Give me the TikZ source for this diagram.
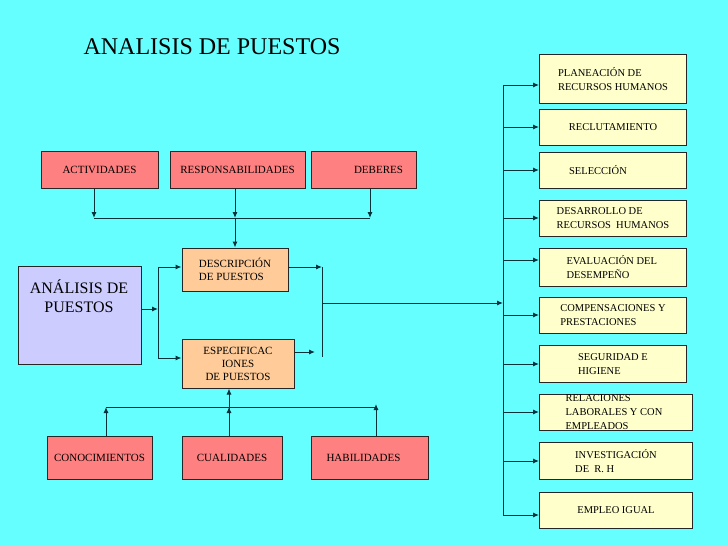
\documentclass[tikz,border=0pt]{standalone}
\usepackage{fontspec}
\setmainfont{Liberation Serif}
\usetikzlibrary{arrows.meta}
\definecolor{bgc}{RGB}{102,255,255}
\definecolor{redc}{RGB}{255,128,128}
\definecolor{yelc}{RGB}{255,255,204}
\definecolor{orc}{RGB}{255,204,153}
\definecolor{lavc}{RGB}{204,204,255}
\definecolor{linec}{RGB}{0,50,60}
\begin{document}
\begin{tikzpicture}[x=1pt,y=-1pt,
  box/.style={draw=black!85,line width=1pt,inner sep=0pt,font=\fontsize{11}{13}\selectfont,align=left},
  redb/.style={box,fill=redc,align=center},
  yel/.style={box,fill=yelc},
  conn/.style={draw=linec,line width=1pt},
  arr/.style={conn,-{Latex[length=6pt,width=5pt]}}]
\fill[bgc] (0,0) rectangle (728,546);
\useasboundingbox (0,0) rectangle (728,546);
\node[anchor=west,font=\fontsize{24}{26}\selectfont] (title) at (80,47) {ANALISIS DE PUESTOS};
% top red
\node[redb,minimum width=117pt,minimum height=37pt] (act) at (99.5,169.5) {ACTIVIDADES};
\node[redb,minimum width=135pt,minimum height=37pt] (resp) at (237.5,169.5) {RESPONSABILIDADES};
\node[redb,minimum width=105pt,minimum height=37pt] (deb) at (363.5,169.5) {\hspace*{30pt}DEBERES};
% bottom red
\node[redb,minimum width=105pt,minimum height=43pt] (con) at (99.5,457.5) {CONOCIMIENTOS};
\node[redb,minimum width=100pt,minimum height=43pt] (cua) at (232,457.5) {CUALIDADES};
\node[redb,minimum width=117pt,minimum height=43pt] (hab) at (369.5,457.5) {HABILIDADES\hspace*{12pt}};
% middle
\node[box,fill=lavc,minimum width=123pt,minimum height=98pt,anchor=north west] (ana) at (18,266) {};
\node[font=\fontsize{16}{19}\selectfont,align=center] (anat) at (79,296) {ANÁLISIS DE\\PUESTOS};
\node[box,fill=orc,minimum width=106pt,minimum height=43pt] (desc) at (235,269.5) {DESCRIPCIÓN\\DE PUESTOS};
\node[box,fill=orc,minimum width=112pt,minimum height=49pt,align=center] (esp) at (238,363.5) {ESPECIFICAC\\IONES\\DE PUESTOS};
% right boxes
\foreach \n/\t/\yy/\hh/\w in {
 r1/{PLANEACIÓN DE\\RECURSOS HUMANOS}/54/49/147,
 r2/{RECLUTAMIENTO}/109/36/147,
 r3/{SELECCIÓN\hspace*{30pt}}/152/36/147,
 r4/{DESARROLLO DE\\RECURSOS\ \ HUMANOS}/200/36/147,
 r5/{EVALUACIÓN DEL\\DESEMPEÑO\hspace*{30pt}}/248/38/147,
 r6/{COMPENSACIONES Y\\PRESTACIONES\hspace*{23pt}}/297/36/147,
 r7/{SEGURIDAD E\\HIGIENE\hspace*{24pt}}/345/37/147,
 r8/{RELACIONES\hspace*{32pt}\\LABORALES Y CON\\EMPLEADOS\hspace*{38pt}}/394/36/153,
 r9/{INVESTIGACIÓN\\DE\ \ R. H\hspace*{42pt}}/442/37/153,
 r10/{EMPLEO IGUAL}/492/36/153}
 {\node[yel,anchor=north west,minimum width=\w pt,minimum height=\hh pt,align=left,font=\fontsize{10.5}{14}\selectfont] (\n) at (539,\yy) {\t};}
% top connectors
\coordinate (ja) at (94,218); \coordinate (jr) at (235,218); \coordinate (jd) at (370,218);
\draw[arr] (act.south-|ja) -- (ja);
\draw[arr] (resp.south-|jr) -- (jr);
\draw[arr] (deb.south-|jd) -- (jd);
\draw[conn] (ja) -- (jd);
\draw[arr] (jr) -- (desc.north-|jr);
% analysis split
\coordinate (sp) at (158,309);
\draw[arr] (ana.east|-sp) -- (sp);
\coordinate (st) at (158,267); \coordinate (sb) at (158,358);
\draw[conn] (st) -- (sb);
\draw[arr] (st) -- (desc.west|-st);
\draw[arr] (sb) -- (esp.west|-sb);
% merge
\coordinate (mt) at (322,267); \coordinate (mb) at (322,357); \coordinate (mm) at (322,303);
\coordinate (ee) at (315,352);
\draw[arr] (desc.east|-mt) -- (mt);
\draw[arr] (esp.east|-ee) -- (ee);
\draw[conn] (mt) -- (mb);
\coordinate (bus) at (503,303);
\draw[arr] (mm) -- (bus);
\draw[conn] (503,85) -- (503,515);
\foreach \n/\yy in {r1/85,r2/127,r3/170,r4/218,r5/260,r6/315,r7/364,r8/412,r9/461,r10/515}
  {\coordinate (t) at (503,\yy); \draw[arr] (t) -- (\n.west|-t);}
% bottom connectors
\coordinate (bc) at (106,407); \coordinate (bq) at (229,407); \coordinate (bh) at (376,404);
\draw[conn] (bc) -- (376,407);
\draw[arr] (con.north-|bc) -- (bc);
\draw[arr] (hab.north-|bh) -- (bh);
\draw[arr] (cua.north-|bq) -- (esp.south-|bq);
\draw[arr] (cua.north-|bq) -- (bq);
\end{tikzpicture}
\end{document}
